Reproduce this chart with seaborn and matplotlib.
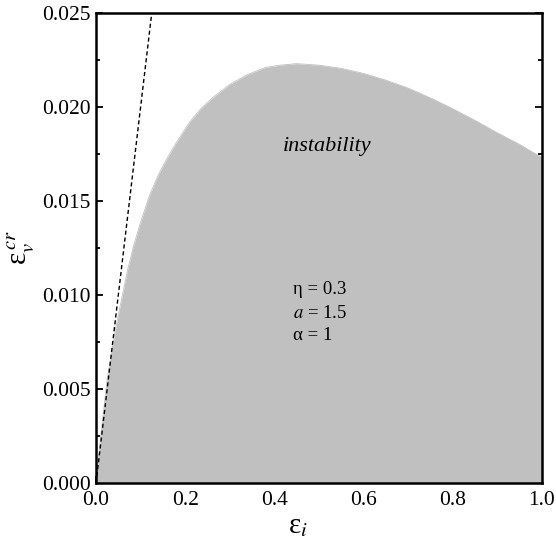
import matplotlib
matplotlib.use("Agg")
import matplotlib.pyplot as plt
import seaborn as sns
import pandas as pd
from matplotlib.ticker import MultipleLocator, FormatStrFormatter

# Critical strain boundary of the instability region
eps_i = [0.0, 0.0015, 0.006, 0.012, 0.0247, 0.0433, 0.0695, 0.083, 0.099, 0.12,
         0.14, 0.16, 0.18, 0.21, 0.235, 0.262, 0.30, 0.338, 0.38, 0.413,
         0.45, 0.50, 0.55, 0.60, 0.65, 0.70, 0.757, 0.80, 0.85, 0.90, 0.95, 1.0]
eps_v_cr = [0.0, 0.00053, 0.0014, 0.0028, 0.00548, 0.00814, 0.0112, 0.0125, 0.0138, 0.0153,
            0.0164, 0.0173, 0.0181, 0.0192, 0.0199, 0.0205, 0.0212, 0.0217, 0.0221, 0.02222,
            0.0223, 0.02222, 0.02205, 0.02178, 0.02142, 0.0210, 0.0204, 0.0199, 0.01928, 0.01862,
            0.0180, 0.0173]

# Reference straight line
line_x = [0.0, 0.125]
line_y = [0.0, 0.025]

params = ["η = 0.3", r"$a$ = 1.5", "α = 1"]

sns.set_style("ticks")
plt.rcParams["font.family"] = ["Liberation Serif", "DejaVu Serif"]
plt.rcParams["mathtext.fontset"] = "stix"
plt.rcParams["text.color"] = "black"
plt.rcParams["axes.labelcolor"] = "black"

fig = plt.figure(figsize=(5.56, 5.39), dpi=100)
ax = fig.add_axes([0.1727, 0.1039, 0.8021, 0.8722])

curve = pd.DataFrame({"x": eps_i, "y": eps_v_cr})
ax.fill_between(curve["x"], 0, curve["y"], color="#c0c0c0", linewidth=0, zorder=1)
sns.lineplot(data=curve, x="x", y="y", color="#c0c0c0", linewidth=0.6, sort=False, ax=ax, zorder=1)

dash = pd.DataFrame({"x": line_x, "y": line_y})
sns.lineplot(data=dash, x="x", y="y", color="black", linewidth=1.0, linestyle=(0, (3.0, 2.0)),
             sort=False, ax=ax, zorder=2)

ax.set_xlim(0, 1.0)
ax.set_ylim(0, 0.025)
ax.xaxis.set_major_locator(MultipleLocator(0.2))
ax.xaxis.set_minor_locator(MultipleLocator(0.1))
ax.yaxis.set_major_locator(MultipleLocator(0.005))
ax.yaxis.set_minor_locator(MultipleLocator(0.0025))
ax.xaxis.set_major_formatter(FormatStrFormatter("%.1f"))
ax.yaxis.set_major_formatter(FormatStrFormatter("%.3f"))

ax.tick_params(which="both", direction="in", top=False, right=True, width=1.3,
               labelsize=15.5, colors="black")
ax.tick_params(axis="x", pad=6)
ax.tick_params(axis="y", pad=4)
ax.tick_params(which="major", length=5)
ax.tick_params(which="minor", length=3)
for s in ax.spines.values():
    s.set_linewidth(1.8)
    s.set_color("black")
    s.set_zorder(5)

ax.set_xlabel(r"ε$_{i}$", fontsize=21, color="black")
ax.xaxis.label.set_va("center")
ax.xaxis.set_label_coords(0.452, -0.092)
ax.set_ylabel(r"ε$_{v}^{\,cr}$", fontsize=21, color="black")
ax.yaxis.label.set_va("center")
ax.yaxis.set_label_coords(-0.168, 0.50)

ax.text(0.518, 0.01787, "instability", style="italic", fontsize=16, color="black",
        ha="center", va="center", zorder=3)
for ty, label in zip([0.01027, 0.00904, 0.00787], params):
    ax.text(0.442, ty, label, fontsize=13.5, color="black", ha="left", va="center", zorder=3)

fig.savefig("out.png", dpi=100)
